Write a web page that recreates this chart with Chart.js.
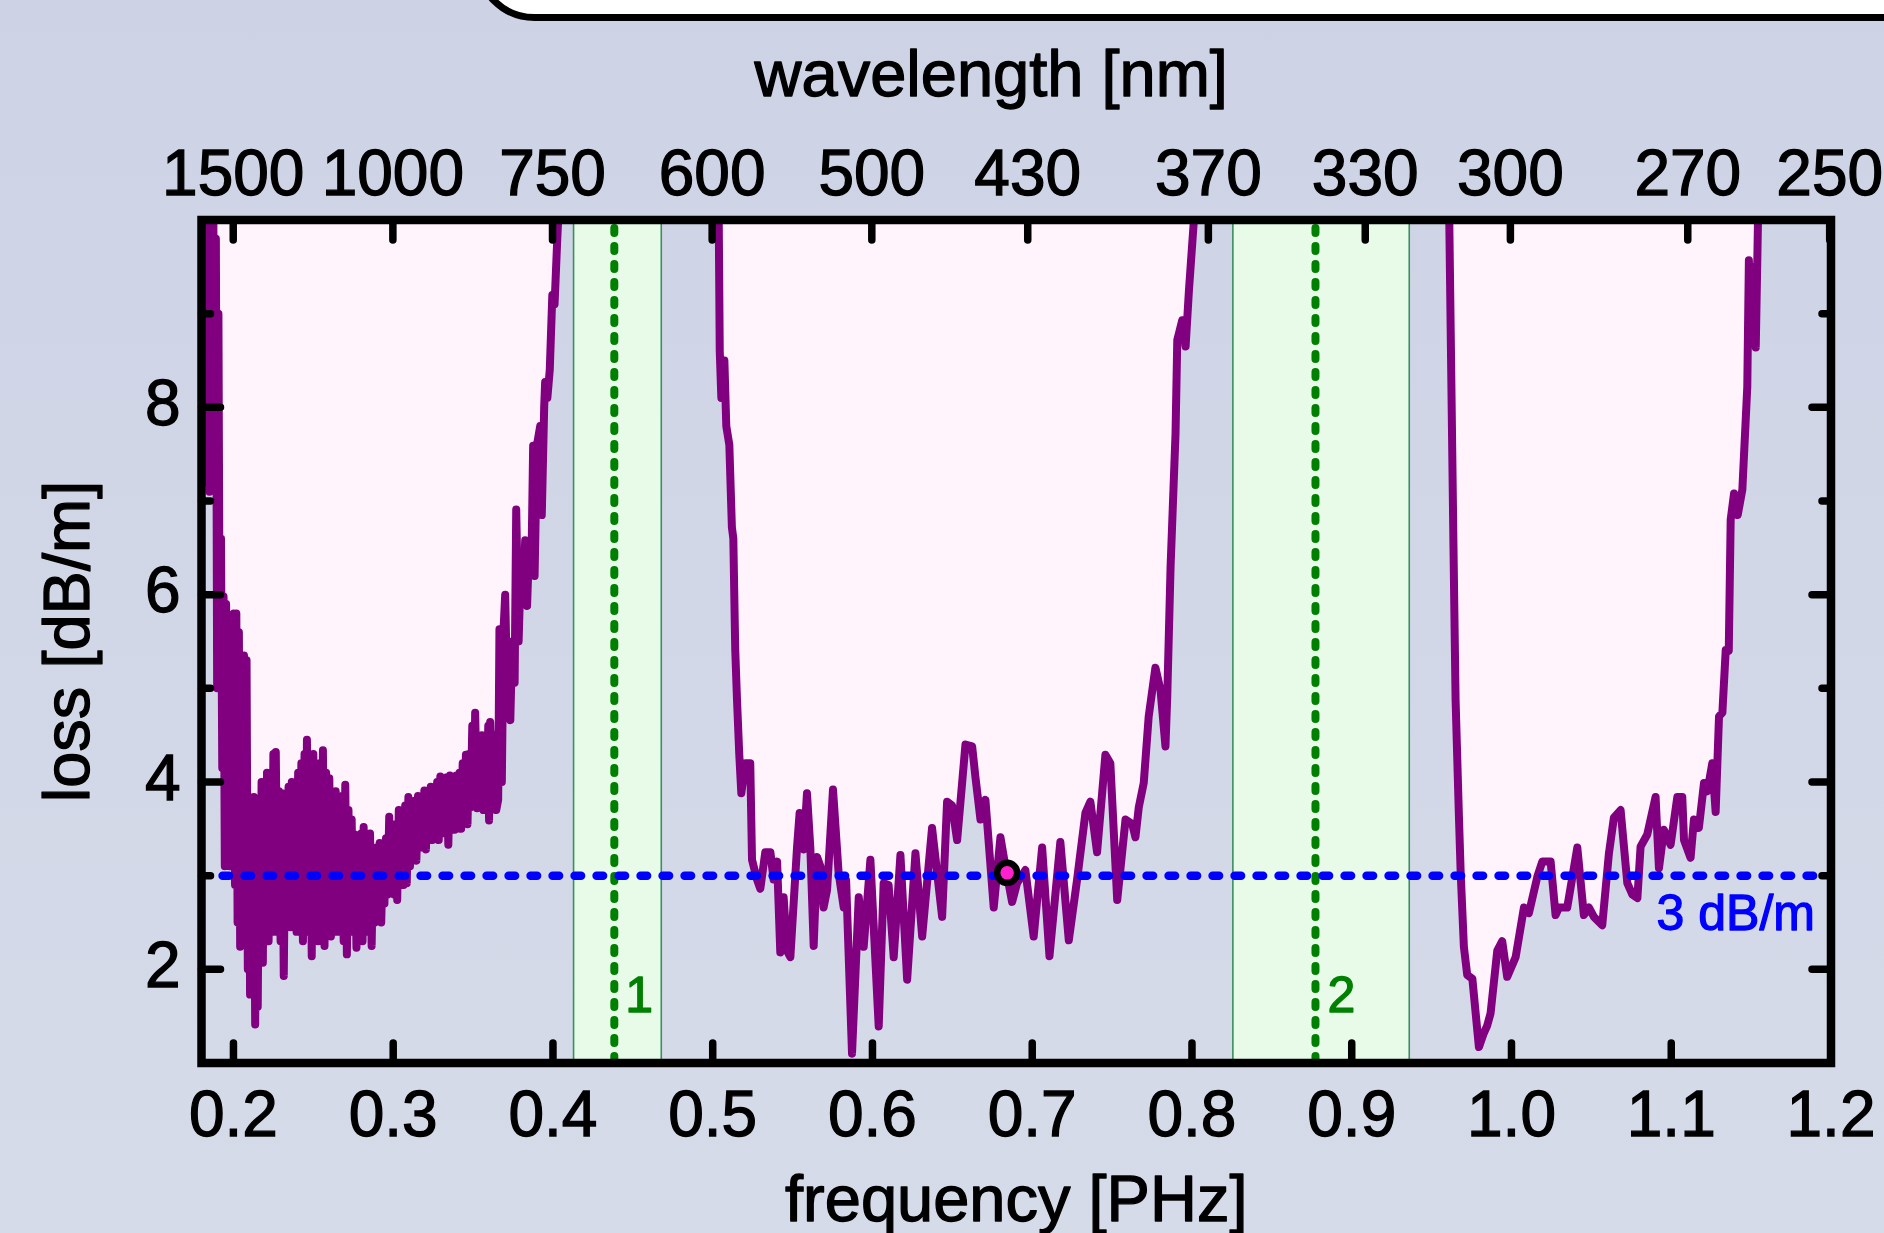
<!DOCTYPE html>
<html><head><meta charset="utf-8">
<script src="https://cdn.jsdelivr.net/npm/chart.js@4.4.1/dist/chart.umd.min.js"></script>
<style>
html,body{margin:0;padding:0;width:1884px;height:1233px;overflow:hidden;background:linear-gradient(#CDD3E5,#D6DBE9);}
#wrap{position:relative;width:1884px;height:1233px;overflow:hidden;}
#box{position:absolute;left:474px;top:-100px;width:1500px;height:121px;box-sizing:border-box;border:7px solid #000;border-radius:75px;background:#fff;}
#c{position:absolute;left:0;top:0;}
</style></head>
<body><div id="wrap"><div id="box"></div><canvas id="c" width="1884" height="1233"></canvas></div>
<script>
// ---------- data (frequency in PHz, loss in dB/m) ----------
const lossBandLow = [[0.1810,10.6],[0.1818,7.2],[0.1826,10.4],[0.1834,7.3],[0.1842,10.3],[0.1850,7.1],[0.1858,10.2],[0.1866,7.4],[0.1874,10.1],[0.1882,7.2],[0.1890,9.8],[0.1898,5.0],[0.1906,9.0],[0.1914,5.2],[0.1922,6.6],[0.1930,4.15],[0.1938,5.98],[0.1946,3.1],[0.1954,5.9],[0.1962,3.3],[0.1970,5.44],[0.1978,3.1],[0.1986,5.6],[0.1994,3.2],[0.2002,5.8],[0.2010,2.9],[0.2018,5.8],[0.2026,2.5],[0.2034,5.6],[0.2042,2.24],[0.2050,5.0],[0.2058,2.4],[0.2066,5.35],[0.2074,2.3],[0.2082,5.3],[0.2090,2.0],[0.2098,3.84],[0.2104,1.73],[0.2112,3.8],[0.2120,1.9],[0.2128,3.84],[0.2136,1.41],[0.2144,3.7],[0.2152,1.6],[0.2160,3.6],[0.2168,2.1],[0.2176,4.0],[0.2184,2.07],[0.2192,3.9],[0.2200,2.4],
[0.2210,4.1],[0.2220,2.3],[0.2230,3.8],[0.2240,2.6],[0.2250,4.3],[0.2258,2.4],[0.2265,4.32],[0.2275,2.6],[0.2285,3.9],[0.2295,2.3],[0.2305,3.88],[0.2315,1.93],[0.2325,3.7],[0.2335,2.5],[0.2345,3.95],[0.2355,2.45],[0.2365,4.0],[0.2375,2.6],[0.2385,3.9],[0.2395,2.4],[0.2405,4.1],[0.2415,2.55],[0.2425,4.2],[0.2435,2.3],[0.2445,4.3],[0.2452,2.6],[0.2460,4.45],[0.2470,2.4],[0.2480,4.1],[0.2490,2.14],[0.2500,4.3],[0.2510,2.5],[0.2520,4.0],[0.2530,2.3],[0.2540,4.2],[0.2550,2.6],[0.2560,4.34],[0.2570,2.25],[0.2580,4.1],[0.2590,2.5],[0.2600,4.04],[0.2610,2.35],[0.2620,3.8],[0.2630,2.6],[0.2640,3.9],[0.2650,2.4],[0.2660,3.75],[0.2670,2.6],[0.2680,3.85],[0.2690,2.3],[0.2700,3.97],[0.2710,2.16],[0.2720,3.7],[0.2730,2.5],[0.2740,3.6],[0.2750,2.4],[0.2760,3.44],[0.2770,2.23],[0.2780,3.3],[0.2790,2.5],[0.2800,3.45],[0.2808,2.3],[0.2815,3.52],[0.2825,2.5],[0.2835,3.3],[0.2845,2.4],[0.2855,3.45],[0.2865,2.25],[0.2875,3.2],[0.2885,2.5],[0.2895,3.3],[0.2905,2.6],[0.2915,3.35],[0.2925,2.5],[0.2935,3.2],[0.2945,2.7],[0.2955,3.4],[0.2965,2.8],[0.2975,3.63],[0.2985,2.9],[0.2995,3.5],[0.3005,2.8],[0.3015,3.55],[0.3025,2.74],[0.3035,3.7],[0.3045,3.0],[0.3055,3.6],[0.3065,2.9],[0.3075,3.75],[0.3085,2.92],[0.3095,3.84],[0.3105,3.1],[0.3115,3.7],[0.3125,3.2],[0.3135,3.8],[0.3145,3.16],[0.3155,3.85],[0.3165,3.3],[0.3175,3.75],[0.3185,3.3],[0.3195,3.91],[0.3205,3.28],[0.3215,3.85],[0.3225,3.4],[0.3235,3.95],[0.3245,3.38],[0.3255,3.9],[0.3265,3.45],[0.3275,4.0],[0.3285,3.38],[0.3295,4.06],[0.3305,3.5],[0.3315,3.95],[0.3325,3.45],[0.3335,4.05],[0.3345,3.33],[0.3355,4.07],[0.3365,3.5],[0.3375,4.0],[0.3385,3.49],[0.3395,4.07],[0.3405,3.6],[0.3415,4.1],[0.3425,3.5],[0.3435,4.2],[0.3445,3.6],[0.3455,4.29],[0.3465,3.55],[0.3475,4.3],[0.3485,3.73],[0.3495,4.6],[0.3505,3.8],[0.3513,4.74],[0.3525,3.72],[0.3535,4.4],[0.3545,3.8],[0.3555,4.5],[0.3565,3.7],[0.3575,4.4],[0.3585,3.75],[0.3595,4.6],[0.3600,3.59],[0.3607,4.64],[0.3620,3.9],[0.3635,4.5],[0.3645,3.7],[0.3657,3.81],[0.3665,5.63],[0.3680,4.0],[0.3690,5.6],[0.3701,6.0],[0.3715,4.8],[0.3733,4.66],[0.3745,5.5],[0.3760,5.06],[0.3770,6.91],[0.3785,5.5],[0.3800,6.4],[0.3815,6.0],[0.3826,6.58],[0.3838,5.88],[0.3850,6.5],[0.3865,6.3],[0.3876,7.59],[0.3885,6.2],[0.3900,7.6],[0.3920,7.8],[0.3930,6.85],[0.3945,8.0],[0.3951,8.27],[0.3965,8.1],[0.3980,8.4],[0.3996,9.2],[0.4010,9.1],[0.4027,9.8],[0.4050,10.6]];

const lossBandMid = [[0.5035,10.6],[0.5044,8.6],[0.5054,8.1],[0.5073,8.5],[0.5085,7.8],[0.5104,7.6],[0.5120,6.72],[0.5129,6.6],[0.5141,5.41],[0.5152,4.88],[0.5166,4.3],[0.5179,3.88],[0.5204,4.2],[0.5235,4.2],[0.5246,3.17],[0.5277,2.96],[0.5298,2.86],[0.5329,3.25],[0.5361,3.25],[0.5381,2.96],[0.5403,3.15],[0.5423,2.18],[0.5444,2.77],[0.5465,2.2],[0.5486,2.13],[0.5528,3.31],[0.5544,3.67],[0.5569,3.28],[0.5590,3.88],[0.5611,3.3],[0.5632,2.25],[0.5653,3.2],[0.5674,3.1],[0.5694,2.66],[0.5716,2.85],[0.5753,3.92],[0.5788,3.03],[0.5820,2.66],[0.5835,2.95],[0.5872,1.1],[0.5914,2.77],[0.5945,2.24],[0.5987,3.17],[0.6039,1.39],[0.6070,2.92],[0.6101,2.9],[0.6133,2.13],[0.6175,3.22],[0.6217,1.89],[0.6269,3.24],[0.6311,2.35],[0.6373,3.51],[0.6436,2.56],[0.6467,3.79],[0.6498,3.75],[0.6530,3.38],[0.6582,4.4],[0.6624,4.38],[0.6644,4.06],[0.6676,3.6],[0.6707,3.81],[0.6759,2.66],[0.6801,3.41],[0.6832,3.1],[0.6874,2.72],[0.6905,2.92],[0.6957,3.06],[0.7009,2.35],[0.7062,3.3],[0.7108,2.14],[0.7176,3.36],[0.7229,2.31],[0.7281,2.96],[0.7333,3.67],[0.7364,3.79],[0.7406,3.25],[0.7458,4.29],[0.7489,4.2],[0.7532,2.74],[0.7584,3.6],[0.7626,3.55],[0.7646,3.41],[0.7667,3.73],[0.7698,3.99],[0.7729,4.7],[0.7771,5.22],[0.7803,4.98],[0.7834,4.38],[0.7845,4.9],[0.7866,6.3],[0.7897,7.72],[0.7908,8.72],[0.7939,8.93],[0.7960,8.65],[0.7981,9.25],[0.8012,10.0],[0.8030,10.6]];

const lossBandHigh = [[0.9606,10.6],[0.9637,6.5],[0.9650,4.88],[0.9671,3.63],[0.9682,3.03],[0.9702,2.24],[0.9723,1.94],[0.9755,1.9],[0.9796,1.17],[0.9827,1.32],[0.9848,1.4],[0.9869,1.53],[0.9911,2.2],[0.9942,2.3],[0.9973,1.92],[1.0026,2.13],[1.0078,2.66],[1.0109,2.6],[1.0162,2.99],[1.0193,3.15],[1.0245,3.15],[1.0276,2.58],[1.0297,2.66],[1.0349,2.66],[1.0412,3.3],[1.0453,2.58],[1.0485,2.66],[1.0516,2.56],[1.0568,2.47],[1.0610,3.24],[1.0641,3.62],[1.0683,3.7],[1.0725,2.92],[1.0756,2.8],[1.0788,2.76],[1.0808,3.31],[1.0850,3.44],[1.0902,3.84],[1.0923,3.08],[1.0954,3.49],[1.0996,3.33],[1.1038,3.84],[1.1069,3.84],[1.1080,3.38],[1.1121,3.19],[1.1142,3.6],[1.1173,3.51],[1.1205,3.99],[1.1226,3.9],[1.1257,4.2],[1.1278,3.68],[1.1299,4.7],[1.1320,4.74],[1.1341,5.41],[1.1360,5.4],[1.1372,6.8],[1.1393,7.08],[1.1416,6.85],[1.1445,7.12],[1.1476,8.22],[1.1486,9.57],[1.1503,8.7],[1.1518,9.5],[1.1529,8.64],[1.1539,9.6],[1.1549,10.6]];

const freqTicks = [0.2,0.3,0.4,0.5,0.6,0.7,0.8,0.9,1.0,1.1,1.2];
const wavelengthTicks = [1500,1000,750,600,500,430,370,330,300,270,250];
const lossMajorTicks = [2,4,6,8];
const lossMinorTicks = [3,5,7,9];
const freqRange = [0.18,1.2];
const lossRange = [1,10];
const thresholdLoss = 3;
const thresholdSpan = [0.1932,1.1904];
const thresholdLabel = '3 dB/m';
const bandEdges = [[0.4129,0.4678],[0.8256,0.9360]];
const bandCenters = [0.4384,0.8773];
const bandLabels = ['1','2'];
const markerPoint = [0.6843,3.03];
const axisTitles = {x:'frequency [PHz]', x2:'wavelength [nm]', y:'loss [dB/m]'};
const C_NM_PHZ = 299.792458;

// ---------- chart ----------
const FONT = '"Liberation Sans", Arial, Helvetica, sans-serif';

function curvePoints(){
  const pts = [];
  [lossBandLow, lossBandMid, lossBandHigh].forEach((seg,k)=>{
    if(k>0) pts.push({x:(pts[pts.length-1].x + seg[0][0])/2, y:null});
    seg.forEach(([f,v])=>pts.push({x:f,y:v}));
  });
  return pts;
}

function heavyText(ctx, t, x, y, color){
  ctx.fillStyle = color; ctx.strokeStyle = color; ctx.lineWidth = 1.3; ctx.lineJoin = 'round';
  ctx.strokeText(t, x, y); ctx.fillText(t, x, y);
}

const decor = {
  id:'decor',
  beforeDatasetsDraw(chart){
    const {ctx, chartArea:a, scales:{x}} = chart;
    ctx.save();
    ctx.beginPath(); ctx.rect(a.left,a.top,a.right-a.left,a.bottom-a.top); ctx.clip();
    bandEdges.forEach(([lo,hi],i)=>{
      const x0 = x.getPixelForValue(lo), x1 = x.getPixelForValue(hi);
      ctx.fillStyle = '#E8FAE8';
      ctx.fillRect(x0,a.top,x1-x0,a.bottom-a.top);
      ctx.strokeStyle = '#3A8F5C'; ctx.lineWidth = 1.6; ctx.setLineDash([]);
      ctx.beginPath(); ctx.moveTo(x0,a.top); ctx.lineTo(x0,a.bottom); ctx.moveTo(x1,a.top); ctx.lineTo(x1,a.bottom); ctx.stroke();
      const xc = x.getPixelForValue(bandCenters[i]);
      ctx.strokeStyle = '#008000'; ctx.lineWidth = 8; ctx.lineCap = 'round'; ctx.setLineDash([5,13]);
      ctx.beginPath(); ctx.moveTo(xc,a.top+8); ctx.lineTo(xc,a.bottom); ctx.stroke();
      ctx.setLineDash([]);
    });
    ctx.restore();
  },
  afterDatasetsDraw(chart){
    const {ctx, chartArea:a, scales:{x,y,x2}} = chart;
    ctx.save();
    // band labels (ink starts ~14px right of the dashed centre line)
    ctx.font = '50px ' + FONT; ctx.textAlign = 'left'; ctx.textBaseline = 'alphabetic';
    bandLabels.forEach((t,i)=>{
      const m = ctx.measureText(t);
      heavyText(ctx, t, x.getPixelForValue(bandCenters[i]) + 14 + m.actualBoundingBoxLeft, a.bottom - 51, '#008000');
    });
    // threshold label
    ctx.textAlign = 'right';
    heavyText(ctx, thresholdLabel, a.right - 16, y.getPixelForValue(thresholdLoss) + 54, '#0000FF');
    // inward ticks
    ctx.strokeStyle = '#000'; ctx.lineWidth = 7.5; ctx.lineCap = 'round';
    ctx.beginPath();
    freqTicks.forEach(v=>{ if(v < freqRange[1]){ const px = x.getPixelForValue(v); ctx.moveTo(px,a.bottom); ctx.lineTo(px,a.bottom-20);} });
    wavelengthTicks.forEach(w=>{ const px = x2.getPixelForValue(C_NM_PHZ/w); ctx.moveTo(px,a.top); ctx.lineTo(px,a.top+20); });
    lossMajorTicks.forEach(v=>{ const py = y.getPixelForValue(v); ctx.moveTo(a.left,py); ctx.lineTo(a.left+19,py); ctx.moveTo(a.right,py); ctx.lineTo(a.right-19,py); });
    lossMinorTicks.forEach(v=>{ const py = y.getPixelForValue(v); ctx.moveTo(a.left,py); ctx.lineTo(a.left+9,py); ctx.moveTo(a.right,py); ctx.lineTo(a.right-9,py); });
    ctx.stroke();
    // frame
    ctx.lineWidth = 8.5; ctx.lineJoin = 'miter'; ctx.lineCap = 'butt';
    ctx.strokeRect(a.left,a.top,a.right-a.left,a.bottom-a.top);
    // axis titles
    ctx.font = '65px ' + FONT; ctx.textAlign = 'center'; ctx.textBaseline = 'alphabetic';
    const cx = (a.left + a.right)/2, cy = (a.top + a.bottom)/2;
    heavyText(ctx, axisTitles.x2, cx - 25, 96, '#000');
    heavyText(ctx, axisTitles.x, cx, 1221, '#000');
    ctx.save(); ctx.translate(89, cy); ctx.rotate(-Math.PI/2);
    heavyText(ctx, axisTitles.y, 0, 0, '#000');
    ctx.restore();
    ctx.restore();
  }
};

const tickFont = {family:FONT, size:64, lineHeight:1};
const tickCommon = {font:tickFont, color:'#000', textStrokeColor:'#000', textStrokeWidth:1.3, autoSkip:false, maxRotation:0};

new Chart(document.getElementById('c'), {
  type:'line',
  data:{datasets:[
    {label:'marker', data:[{x:markerPoint[0], y:markerPoint[1]}], showLine:false,
     pointRadius:10, pointBorderWidth:6.5, pointBackgroundColor:'#FF22CC', pointBorderColor:'#000', pointHoverRadius:10},
    {label:'threshold', data:[{x:thresholdSpan[0],y:thresholdLoss},{x:thresholdSpan[1],y:thresholdLoss}],
     borderColor:'#0000FF', borderWidth:8.5, borderDash:[6.5,15.5], borderCapStyle:'round', pointRadius:0, fill:false},
    {label:'loss', data:curvePoints(), borderColor:'#800080', borderWidth:8, fill:'end', backgroundColor:'#FFF4FB',
     pointRadius:0, borderJoinStyle:'round', borderCapStyle:'round', spanGaps:false, tension:0, clip:0}
  ]},
  options:{
    responsive:false, animation:false, devicePixelRatio:1,
    layout:{padding:{left:0,right:53,top:0,bottom:0}},
    plugins:{legend:{display:false}, tooltip:{enabled:false}},
    scales:{
      x:{type:'linear', position:'bottom', min:freqRange[0], max:freqRange[1],
         afterBuildTicks:s=>{ s.ticks = freqTicks.map(v=>({value:v})); },
         afterFit:s=>{ s.height = 170; s.paddingLeft = 0; s.paddingRight = 0; },
         ticks:{...tickCommon, callback:v=>Number(v).toFixed(1), padding:23},
         grid:{display:false, drawTicks:false}, border:{display:false}},
      x2:{type:'linear', position:'top', min:freqRange[0], max:freqRange[1],
         afterBuildTicks:s=>{ s.ticks = wavelengthTicks.map(w=>({value:C_NM_PHZ/w})); },
         afterFit:s=>{ s.height = 220; s.paddingLeft = 0; s.paddingRight = 0; },
         ticks:{...tickCommon, callback:(v,i)=>String(wavelengthTicks[i]), padding:11},
         grid:{display:false, drawTicks:false}, border:{display:false}},
      y:{type:'linear', position:'left', min:lossRange[0], max:lossRange[1],
         afterBuildTicks:s=>{ s.ticks = lossMajorTicks.map(v=>({value:v})); },
         afterFit:s=>{ s.width = 201.5; s.paddingTop = 0; s.paddingBottom = 0; },
         ticks:{...tickCommon, padding:21},
         grid:{display:false, drawTicks:false}, border:{display:false}}
    }
  },
  plugins:[decor]
});
</script>
</body></html>
